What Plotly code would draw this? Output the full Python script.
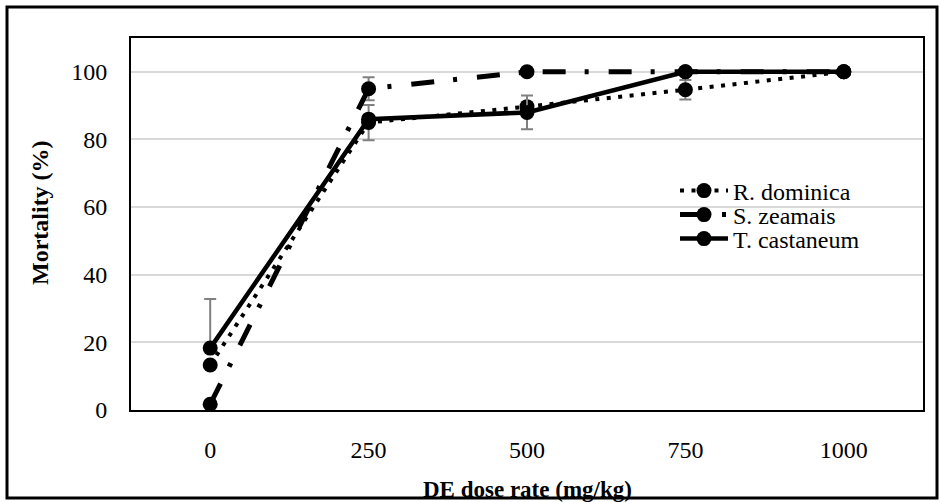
import plotly.graph_objects as go

# DE dose rates (mg/kg) and mean mortality (%) per insect species
doses = ["0", "250", "500", "750", "1000"]

r_dominica = [13.3, 85.0, 89.7, 94.7, 100.0]
r_dominica_err = [0.0, 5.2, 0.0, 2.9, 0.0]

s_zeamais = [1.7, 95.0, 100.0, 100.0, 100.0]
s_zeamais_err = [0.0, 3.4, 0.0, 0.0, 0.0]

t_castaneum = [18.3, 86.0, 88.0, 100.0, 100.0]
t_castaneum_err_plus = [14.5, 0.0, 5.0, 0.0, 0.0]
t_castaneum_err_minus = [0.0, 0.0, 5.0, 0.0, 0.0]

FONT = "Liberation Serif"
FS = 24
ERR_COLOR = "#808080"

fig = go.Figure()

fig.add_trace(go.Scatter(
    x=doses, y=r_dominica, name="R. dominica", mode="lines+markers",
    line=dict(color="black", width=4, dash="4px,7.5px"),
    marker=dict(symbol="circle", size=15, color="black"),
    error_y=dict(type="data", array=r_dominica_err, color=ERR_COLOR,
                 thickness=2, width=6),
    legend="legend",
))
fig.add_trace(go.Scatter(
    x=doses, y=s_zeamais, name="S. zeamais", mode="lines+markers",
    line=dict(color="black", width=5, dash="23px,19px,4px,20px"),
    marker=dict(symbol="circle", size=15, color="black"),
    error_y=dict(type="data", array=s_zeamais_err, color=ERR_COLOR,
                 thickness=2, width=6),
    legend="legend2",
))
fig.add_trace(go.Scatter(
    x=doses, y=t_castaneum, name="T. castaneum", mode="lines+markers",
    line=dict(color="black", width=4.5),
    marker=dict(symbol="circle", size=15, color="black"),
    error_y=dict(type="data", symmetric=False, array=t_castaneum_err_plus,
                 arrayminus=t_castaneum_err_minus, color=ERR_COLOR,
                 thickness=2, width=6),
    legend="legend3",
))

L, R, T, B = 131, 18, 38, 92
PH = 502 - T - B


def paper_y(py):
    return (502 - B - py) / PH


def paper_x(px):
    return (px - L) / (941 - L - R)


def legend_box(py):
    return dict(
        visible=True,
        bgcolor="rgba(0,0,0,0)", borderwidth=0,
        font=dict(family=FONT, size=FS, color="black"),
        xanchor="left", yanchor="middle", itemwidth=48,
        x=paper_x(675), y=paper_y(py),
    )


fig.update_layout(
    width=941, height=502,
    margin=dict(l=L, r=R, t=T, b=B),
    paper_bgcolor="white", plot_bgcolor="white",
    font=dict(family=FONT, size=FS, color="black"),
    showlegend=True,
    legend=legend_box(191),
    legend2=legend_box(215),
    legend3=legend_box(239),
    xaxis=dict(
        type="category", range=[-0.5, 4.5], showgrid=False, showline=True,
        linecolor="black", linewidth=2, mirror=True, ticks="",
        ticklabelstandoff=17, zeroline=False,
        tickfont=dict(family=FONT, size=FS, color="black"),
    ),
    yaxis=dict(
        range=[0, 110], tickvals=[0, 20, 40, 60, 80, 100],
        showgrid=True, gridcolor="#d9d9d9", gridwidth=1.5,
        showline=True, linecolor="black", linewidth=2, mirror=True,
        ticks="", ticklabelstandoff=17, zeroline=False,
        tickfont=dict(family=FONT, size=FS, color="black"),
    ),
    annotations=[
        dict(text="<b>DE dose rate (mg/kg)</b>", xref="paper", yref="paper",
             x=0.5, y=paper_y(489), xanchor="center", yanchor="middle",
             showarrow=False, font=dict(family=FONT, size=FS - 1, color="black")),
        dict(text="<b>Mortality (%)</b>", xref="paper", yref="paper",
             x=paper_x(40), y=paper_y(213), xanchor="center", yanchor="middle",
             textangle=-90, showarrow=False,
             font=dict(family=FONT, size=FS, color="black")),
    ],
    shapes=[
        dict(type="rect", xref="paper", yref="paper",
             x0=paper_x(7), x1=paper_x(937), y0=paper_y(498), y1=paper_y(7),
             line=dict(color="black", width=3), fillcolor="rgba(0,0,0,0)",
             layer="above"),
    ],
)

fig.write_html("out.html")
